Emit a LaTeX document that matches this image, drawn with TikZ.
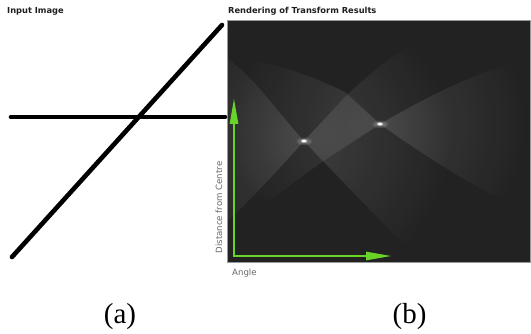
\documentclass[tikz,border=0pt]{standalone}
\usepackage{fontspec}
\setmainfont{Liberation Serif}
\newfontfamily\djv{DejaVu Sans}
\usetikzlibrary{arrows.meta,calc,fadings}
\definecolor{panel}{HTML}{222222}
\definecolor{arrgreen}{RGB}{104,212,40}
\tikzfading[name=peakfade, inner color=transparent!0, outer color=transparent!100]
\begin{document}
\begin{tikzpicture}[x=1pt,y=-1pt,
  ttl/.style={font=\djv\bfseries\fontsize{8.3}{10}\selectfont, text=black!88, inner sep=0pt},
  axl/.style={font=\djv\fontsize{8.6}{10}\selectfont, text=black!60, inner sep=0pt},
  subcap/.style={font=\fontsize{29}{32}\selectfont, inner sep=0pt},
  inkline/.style={line width=4.6pt, line cap=round, black},
  axisarrow/.style={line width=2.6pt, arrgreen, line join=miter,
    {Triangle[length=26pt,width=8pt]}-{Triangle[length=26pt,width=8pt]}},
  fanA/.style={white, opacity=0.13, path fading=peakfade, fit fading=false,
    fading transform={shift={(304,141)}, scale=6}},
  fanB/.style={white, opacity=0.13, path fading=peakfade, fit fading=false,
    fading transform={shift={(380,124)}, scale=6}},
  glow/.style={white, path fading=peakfade, fit fading=false}]
\useasboundingbox (0,0) rectangle (531,334);

% titles
\node[ttl, anchor=west] (t1) at (7,11) {Input Image};
\node[ttl, anchor=west] (t2) at (228,11) {Rendering of Transform Results};

% panel
\fill[panel] (227,20) rectangle (530,262);
\begin{scope}
\clip (227,20) rectangle (530,262);
% peak 1 fans
\fill[fanA] (304,141) .. controls (280,115) and (255,78) .. (227,58)
   -- (227,222) .. controls (255,195) and (280,168) .. (304,141) -- cycle;
\fill[fanA] (304,141) -- (345,97) .. controls (385,58) and (425,32) .. (470,20)
   -- (530,20) -- (530,262) -- (420,262) .. controls (405,245) and (350,190) .. (304,141) -- cycle;
% peak 2 fans
\fill[fanB] (380,124) .. controls (430,95) and (480,70) .. (530,58)
   -- (530,215) .. controls (480,190) and (430,160) .. (380,124) -- cycle;
\fill[fanB] (380,124) -- (345,92) .. controls (300,70) and (260,60) .. (227,56)
   -- (227,226) .. controls (255,212) and (290,185) .. (322,162) -- cycle;
% peaks (soft glow + bright core)
\foreach \cx/\cy in {304/141, 380/124}{
  \fill[glow, opacity=0.4, fading transform={shift={(\cx,\cy)}, xscale=0.36, yscale=0.18}]
     (\cx,\cy) ellipse [x radius=9pt, y radius=4.5pt];
  \fill[white, opacity=0.4] (\cx,\cy) ellipse [x radius=3.2pt, y radius=1.9pt];
  \fill[white, opacity=0.95] (\cx,\cy) ellipse [x radius=2.1pt, y radius=1.3pt];
}
\end{scope}
\draw[black!40, line width=0.6pt] (227,20) rectangle (530,262);

% input image lines
\coordinate (h1) at (11,117);
\coordinate (h2) at (225,117);
\coordinate (d1) at (12,257);
\coordinate (d2) at (222,25);
\draw[inkline] (h1) -- (h2);
\draw[inkline] (d1) -- (d2);

% axes
\coordinate (vtip) at (234,98);
\coordinate (orig) at (234,256);
\coordinate (htip) at (392,256);
\draw[axisarrow] (vtip) -- (orig) -- (htip);

\node[axl, anchor=west] (ang) at (232,273) {Angle};
\node[axl, rotate=90] (dist) at (219,207.5) {Distance from Centre};

% captions
\node[subcap] (ca) at (120,317) {(a)};
\node[subcap] (cb) at (409.5,317) {(b)};
\end{tikzpicture}
\end{document}
